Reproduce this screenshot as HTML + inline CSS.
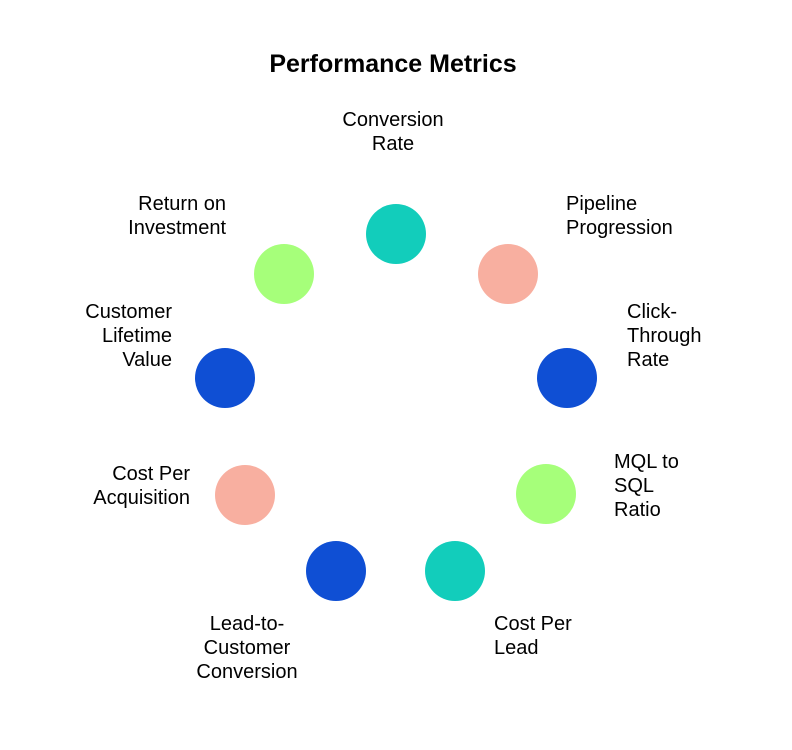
<!DOCTYPE html>
<html><head><meta charset="utf-8"><style>body{margin:0;background:#fff}svg{display:block}</style></head>
<body>
<svg width="792" height="750" viewBox="0 0 792 750" xmlns="http://www.w3.org/2000/svg" font-family="Liberation Sans, Arial, sans-serif" font-size="20" fill="#000">
<rect width="792" height="750" fill="#fff"/>
<text x="393" y="72" text-anchor="middle" font-size="25" font-weight="bold">Performance Metrics</text>
<circle cx="396" cy="234" r="30" fill="#12CDBB"/>
<circle cx="508" cy="274" r="30" fill="#F8AFA0"/>
<circle cx="567" cy="378" r="30" fill="#0F4FD4"/>
<circle cx="546" cy="494" r="30" fill="#A6FF7A"/>
<circle cx="455" cy="571" r="30" fill="#12CDBB"/>
<circle cx="336" cy="571" r="30" fill="#0F4FD4"/>
<circle cx="245" cy="495" r="30" fill="#F8AFA0"/>
<circle cx="225" cy="378" r="30" fill="#0F4FD4"/>
<circle cx="284" cy="274" r="30" fill="#A6FF7A"/>
<g text-anchor="middle">
<text x="393" y="126">Conversion</text><text x="393" y="150">Rate</text>
<text x="247" y="630">Lead-to-</text><text x="247" y="654">Customer</text><text x="247" y="678">Conversion</text>
</g>
<g text-anchor="start">
<text x="566" y="210">Pipeline</text><text x="566" y="234">Progression</text>
<text x="627" y="318">Click-</text><text x="627" y="342">Through</text><text x="627" y="366">Rate</text>
<text x="614" y="468">MQL to</text><text x="614" y="492">SQL</text><text x="614" y="516">Ratio</text>
<text x="494" y="630">Cost Per</text><text x="494" y="654">Lead</text>
</g>
<g text-anchor="end">
<text x="190" y="480">Cost Per</text><text x="190" y="504">Acquisition</text>
<text x="172" y="318">Customer</text><text x="172" y="342">Lifetime</text><text x="172" y="366">Value</text>
<text x="226" y="210">Return on</text><text x="226" y="234">Investment</text>
</g>
</svg>
</body></html>
